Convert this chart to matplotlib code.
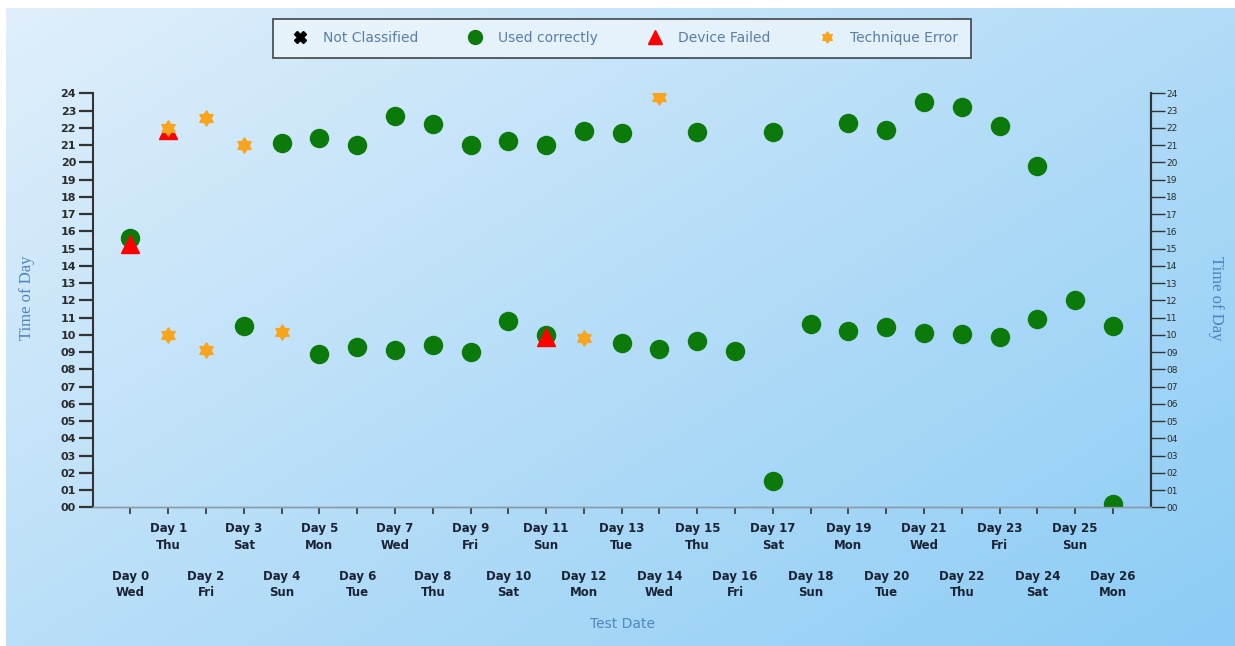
import numpy as np
import matplotlib
matplotlib.use("Agg")
import matplotlib.pyplot as plt
from matplotlib.lines import Line2D
from matplotlib.path import Path

# --- data ---
days = list(range(27))
weekdays = ['Wed', 'Thu', 'Fri', 'Sat', 'Sun', 'Mon', 'Tue',
            'Wed', 'Thu', 'Fri', 'Sat', 'Sun', 'Mon', 'Tue',
            'Wed', 'Thu', 'Fri', 'Sat', 'Sun', 'Mon', 'Tue',
            'Wed', 'Thu', 'Fri', 'Sat', 'Sun', 'Mon']
hour_labels = ['%02d' % h for h in range(25)]

used_days = [0, 3, 4, 5, 5, 6, 6, 7, 7, 8, 8, 9, 9, 10, 10, 11, 11, 12, 13, 13,
             14, 15, 15, 16, 17, 17, 18, 19, 19, 20, 20, 21, 21, 22, 22, 23, 23,
             24, 24, 25, 26, 26]
used_times = [15.6, 10.5, 21.1, 21.4, 8.9, 21.0, 9.3, 22.7, 9.1, 22.2, 9.4, 21.0, 9.0,
              21.25, 10.8, 21.0, 10.0, 21.8, 21.7, 9.55, 9.2, 21.75, 9.65, 9.05,
              21.75, 1.5, 10.6, 22.26, 10.2, 21.85, 10.43, 23.5, 10.09, 23.2, 10.05,
              22.1, 9.9, 19.8, 10.9, 12.0, 10.5, 0.2]

failed_days = [0, 1, 11]
failed_times = [15.25, 21.85, 9.9]

technique_days = [1, 1, 2, 2, 3, 4, 12, 14]
technique_times = [22.0, 9.99, 22.55, 9.12, 21.0, 10.18, 9.8, 23.8]

not_classified_days = []
not_classified_times = []

# chunky six-pointed star marker
ang = np.pi / 2 + np.arange(12) * np.pi / 6
rad = np.where(np.arange(12) % 2 == 0, 1.0, 0.6)
star_verts = np.column_stack([rad * np.cos(ang), rad * np.sin(ang)])
star = Path(np.vstack([star_verts, star_verts[:1]]), closed=True)

# --- figure ---
W, H = 1235, 646
fig = plt.figure(figsize=(W / 100, H / 100), dpi=100)
fig.patch.set_facecolor('white')

# background gradient (light top-left -> deeper blue bottom-right)
bg = fig.add_axes([6 / W, 0, 1 - 6 / W, 1 - 8 / H], zorder=-10)
gx, gy = np.meshgrid(np.linspace(0, 1, 300), np.linspace(0, 1, 160))
t = np.clip(0.55 * gx + 0.45 * gy, 0, 1)
c0 = np.array([224, 239, 251]) / 255
c1 = np.array([140, 204, 245]) / 255
grad = c0[None, None, :] * (1 - t[..., None]) + c1[None, None, :] * t[..., None]
bg.imshow(grad, aspect='auto', interpolation='bicubic')
bg.axis('off')

left, right = 92.7 / W, 1150.7 / W
bottom, top = 1 - 507.3 / H, 1 - 93.3 / H
ax = fig.add_axes([left, bottom, right - left, top - bottom])
ax.set_facecolor('none')

green = '#0b7a0b'
red = '#ff0000'
orange = '#f8a41c'

ax.plot(used_days, used_times, 'o', color=green, ms=13, mec=green, zorder=3)
ax.plot(failed_days, failed_times, '^', color=red, ms=13, zorder=4)
ax.plot(technique_days, technique_times, linestyle='none', marker=star,
        color=orange, ms=11, zorder=5)
ax.plot(not_classified_days, not_classified_times, 'X', color='black', ms=9)

ax.set_xlim(-1, 27)
ax.set_ylim(0, 24)

# y axis (left) and twin (right)
ax.set_yticks(range(25))
ax.set_yticklabels(hour_labels, fontsize=8, fontweight='bold', color='#2b2b2b')
ax.tick_params(axis='y', direction='out', length=10, width=1.6, color='#333333', pad=2)

ax2 = ax.twinx()
ax2.set_ylim(0, 24)
ax2.set_yticks(range(25))
ax2.set_yticklabels(hour_labels, fontsize=6.5, color='#2b2b2b')
ax2.tick_params(axis='y', direction='out', length=10, width=1.0, color='#333333', pad=1)

for a in (ax, ax2):
    a.spines['top'].set_visible(False)
    a.spines['left'].set_color('#333333')
    a.spines['left'].set_linewidth(1.5)
    a.spines['right'].set_color('#333333')
    a.spines['right'].set_linewidth(1.5)
    a.spines['bottom'].set_color('#8a9aa8')
    a.spines['bottom'].set_linewidth(1.0)
ax2.spines['left'].set_visible(False)

# x axis: odd days on the upper row, even days on the lower row
odd = [d for d in days if d % 2 == 1]
even = [d for d in days if d % 2 == 0]
ax.set_xticks(odd)
ax.set_xticklabels(['Day %d\n%s' % (d, weekdays[d]) for d in odd],
                   fontsize=8.5, fontweight='bold', color='#1a2233', linespacing=1.45)
ax.set_xticks(even, minor=True)
ax.set_xticklabels(['Day %d\n%s' % (d, weekdays[d]) for d in even], minor=True,
                   fontsize=8.5, fontweight='bold', color='#1a2233', linespacing=1.35)
ax.tick_params(axis='x', which='major', direction='out', length=5, width=1.2,
               color='#333333', pad=5.5)
ax.tick_params(axis='x', which='minor', direction='out', length=5, width=1.2,
               color='#333333', pad=40)

fig.text(622 / W, 1 - 624 / H, 'Test Date', ha='center', va='center',
         fontsize=10, color='#5588bb')
fig.text(27 / W, 1 - 298 / H, 'Time of Day', ha='center', va='center', rotation=90,
         fontsize=12, color='#4d84bf', family='Liberation Serif')
fig.text(1216 / W, 1 - 298 / H, 'Time of Day', ha='center', va='center', rotation=270,
         fontsize=12, color='#4d84bf', family='Liberation Serif')

# legend
handles = [
    Line2D([], [], linestyle='none', marker='X', color='black', ms=8),
    Line2D([], [], linestyle='none', marker='o', color=green, ms=10),
    Line2D([], [], linestyle='none', marker='^', color=red, ms=10),
    Line2D([], [], linestyle='none', marker=star, color=orange, ms=8),
]
labels = ['Not Classified', 'Used correctly', 'Device Failed', 'Technique Error']
leg = fig.legend(handles, labels, loc='center', bbox_to_anchor=(622 / W, 1 - 38 / H),
                 ncol=4, fontsize=10, frameon=True, fancybox=False,
                 handlelength=2.0, handletextpad=0.65, columnspacing=3.1,
                 borderpad=0.9)
leg.get_frame().set_facecolor('#edf6fc')
leg.get_frame().set_edgecolor('#2b2b2b')
leg.get_frame().set_linewidth(1.3)
for txt in leg.get_texts():
    txt.set_color('#5b7ea6')

fig.savefig('out.png', dpi=100)
